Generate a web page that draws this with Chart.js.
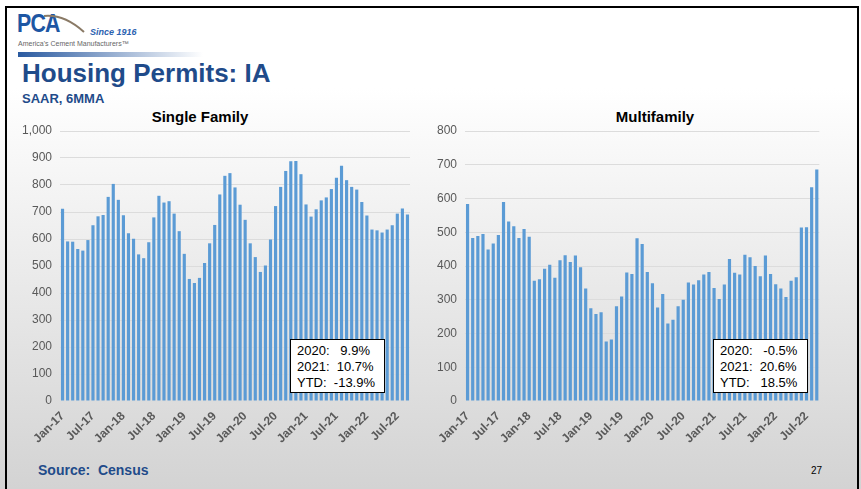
<!DOCTYPE html>
<html>
<head>
<meta charset="utf-8">
<script src="https://cdn.jsdelivr.net/npm/chart.js@4.4.1/dist/chart.umd.min.js"></script>
<style>
  html, body { margin: 0; padding: 0; }
  body {
    width: 861px; height: 489px; overflow: hidden; position: relative;
    font-family: Arial, "Liberation Sans", sans-serif;
    background: linear-gradient(#ffffff 0%, #ffffff 18%, #d3d3d3 100%);
  }
  .frame { position: absolute; left: 5px; top: 6px; width: 850px; height: 500px;
    border: 2px solid #000; border-bottom: none; }
  .abs { position: absolute; }
  #pca { left: 17px; top: 8px; font-size: 26px; font-weight: bold; color: #1d56a3; letter-spacing: -1px; transform: scaleX(0.82); transform-origin: left; }
  #since { left: 90px; top: 27px; font-size: 9px; font-style: italic; font-weight: bold; color: #2b62b0; }
  #amc { left: 18px; top: 40px; font-size: 7px; color: #666; }
  #bar { left: 18px; top: 52px; width: 185px; height: 5px; background: linear-gradient(90deg, #2a5aa0, rgba(255,255,255,0)); }
  #title { left: 22px; top: 58px; font-size: 26px; font-weight: bold; color: #1f4b8a; }
  #sub { left: 22px; top: 91px; font-size: 13px; font-weight: bold; color: #1f4b8a; }
  .ctitle { position: absolute; top: 108px; font-size: 15px; font-weight: bold; color: #000; width: 200px; text-align: center; }
  #src { left: 38px; top: 462px; font-size: 14px; font-weight: bold; color: #1f4b8a; white-space: pre; }
  #pg { left: 811px; top: 465px; font-size: 10px; color: #000; }
  .box { position: absolute; background: #fff; border: 1px solid #000; font-size: 13px; line-height: 16px;
    padding: 3px 0 0 6px; box-sizing: border-box; width: 95px; height: 54px; white-space: pre; color: #000; }
  canvas { position: absolute; }
</style>
</head>
<body>
<div class="frame"></div>
<div class="abs" id="pca">PCA</div>
<svg class="abs" style="left:42px;top:12px" width="45" height="22">
  <path d="M2 4 Q 22 2 42 20" stroke="#8a7a66" stroke-width="2" fill="none"/>
</svg>
<div class="abs" id="since">Since 1916</div>
<div class="abs" id="amc">America's Cement Manufacturers™</div>
<div class="abs" id="bar"></div>
<div class="abs" id="title">Housing Permits: IA</div>
<div class="abs" id="sub">SAAR, 6MMA</div>

<div class="ctitle" style="left:100px">Single Family</div>
<div class="ctitle" style="left:555px">Multifamily</div>

<canvas id="sf" width="410" height="345" style="left:10px;top:105px"></canvas>
<canvas id="mf" width="412" height="345" style="left:415px;top:105px"></canvas>

<div class="box" style="left:290px;top:339px">2020:   9.9%
2021:  10.7%
YTD:  -13.9%</div>
<div class="box" style="left:713px;top:339px">2020:   -0.5%
2021:  20.6%
YTD:   18.5%</div>

<div class="abs" id="src">Source:  Census</div>
<div class="abs" id="pg">27</div>

<script>
// months Jan-17 .. Sep-22
const monthNames = ["Jan","Feb","Mar","Apr","May","Jun","Jul","Aug","Sep","Oct","Nov","Dec"];
const months = [];
for (let y = 17; y <= 22; y++) {
  for (let m = 0; m < 12; m++) {
    if (y === 22 && m > 8) break;
    months.push(monthNames[m] + "-" + y);
  }
}

// Single family permits (SAAR, 6MMA)
const singleFamily = [
  712, 591, 590, 563, 557, 596, 651, 684, 689, 756, 804, 745,
  688, 621, 601, 543, 529, 588, 680, 760, 735, 740, 694, 629,
  545, 452, 437, 456, 511, 584, 652, 765, 834, 844, 791, 727,
  671, 584, 533, 478, 502, 598, 722, 793, 852, 888, 889, 840,
  728, 683, 710, 743, 754, 785, 827, 871, 818, 793, 783, 737,
  687, 635, 632, 624, 635, 651, 694, 713, 691
];

// Multifamily permits (SAAR, 6MMA)
const multiFamily = [
  584, 483, 489, 495, 449, 467, 492, 590, 532, 518, 483, 510,
  487, 356, 361, 392, 404, 365, 417, 432, 412, 431, 396, 333,
  275, 258, 263, 176, 182, 281, 310, 381, 376, 482, 465, 382,
  349, 277, 317, 230, 241, 281, 300, 351, 345, 358, 375, 382,
  335, 302, 345, 421, 380, 375, 433, 426, 400, 370, 431, 376,
  346, 333, 308, 356, 367, 514, 515, 633, 686
];

const barColor = "#5b9bd5";
const tickColor = "#595959";

function makeChart(id, values, yMax, padRight) {
  const ctx = document.getElementById(id).getContext("2d");
  return new Chart(ctx, {
    type: "bar",
    data: {
      labels: months,
      datasets: [{
        data: values,
        backgroundColor: barColor,
        borderWidth: 0,
        barPercentage: 0.62,
        categoryPercentage: 1.0
      }]
    },
    options: {
      responsive: false,
      animation: false,
      layout: { padding: { left: 0, right: padRight, top: 26, bottom: 0 } },
      plugins: {
        legend: { display: false },
        tooltip: { enabled: false }
      },
      scales: {
        x: {
          grid: { display: false },
          border: { display: false },
          ticks: {
            autoSkip: false,
            maxRotation: 45,
            minRotation: 45,
            padding: 0,
            color: tickColor,
            font: { family: "Arial", size: 12, weight: "bold" },
            callback: (v, i) => (i % 6 === 0 ? months[i] : "")
          },
          afterFit: s => { s.height = 49; }
        },
        y: {
          min: 0,
          max: yMax,
          grid: { color: "#dcdcdc", lineWidth: 1, drawTicks: false },
          border: { display: false },
          ticks: {
            stepSize: 100,
            padding: 8,
            color: tickColor,
            font: { family: "Arial", size: 12 }
          },
          afterFit: s => { s.width = 50; }
        }
      }
    }
  });
}

makeChart("sf", singleFamily, 1000, 10);
makeChart("mf", multiFamily, 800, 5);
</script>
</body>
</html>
